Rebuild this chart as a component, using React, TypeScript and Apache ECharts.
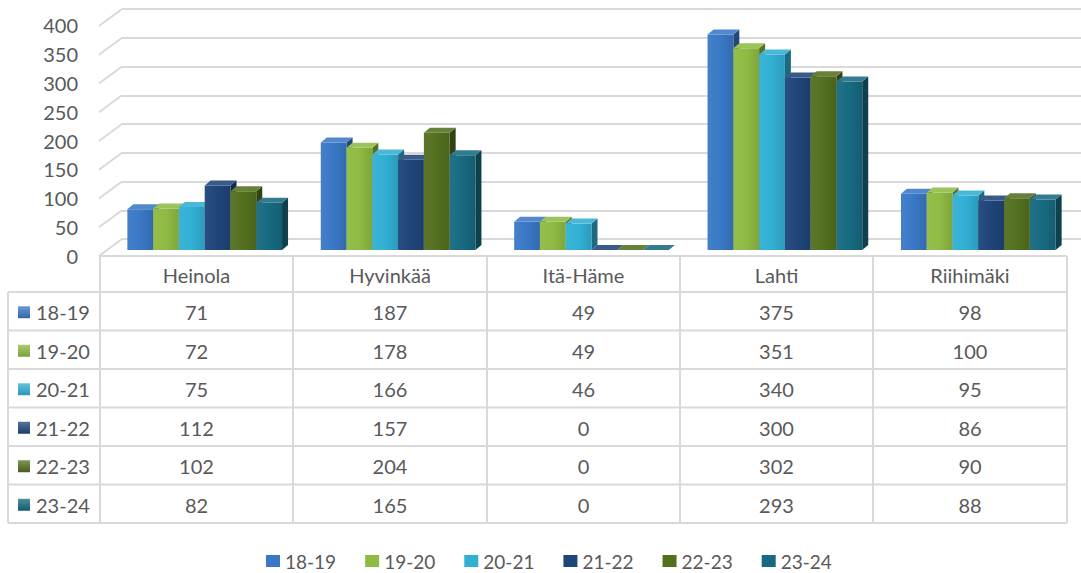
import React, { useEffect, useRef } from "react";
import * as echarts from "echarts";

const categories = ["Heinola", "Hyvinkää", "Itä-Häme", "Lahti", "Riihimäki"];
const seriesNames = ["18-19", "19-20", "20-21", "21-22", "22-23", "23-24"];
const s1819 = [71, 187, 49, 375, 98];
const s1920 = [72, 178, 49, 351, 100];
const s2021 = [75, 166, 46, 340, 95];
const s2122 = [112, 157, 0, 300, 86];
const s2223 = [102, 204, 0, 302, 90];
const s2324 = [82, 165, 0, 293, 88];
const seriesValues = [s1819, s1920, s2021, s2122, s2223, s2324];
const yTicks = [0, 50, 100, 150, 200, 250, 300, 350, 400];
const colors = ["#3A78C6", "#8FBB43", "#31B0D4", "#1F4579", "#53701F", "#176A81"];

const FONT = "Lato, 'Noto Sans', sans-serif";
const TEXT = "#595959";
const LINE = "#D9D9D9";

function shade(hex: string, f: number): string {
  const n = parseInt(hex.slice(1), 16);
  let r = (n >> 16) & 255, g = (n >> 8) & 255, b = n & 255;
  const m = (c: number) => {
    const v = f >= 0 ? c + (255 - c) * f : c * (1 + f);
    return Math.max(0, Math.min(255, Math.round(v)));
  };
  r = m(r); g = m(g); b = m(b);
  return "#" + ((1 << 24) + (r << 16) + (g << 8) + b).toString(16).slice(1);
}

export default function App() {
  const ref = useRef<HTMLDivElement>(null);
  useEffect(() => {
    if (!ref.current) return;
    const chart = echarts.init(ref.current, null, { renderer: "svg" });

    const barSeries = seriesValues.map((vals, i) => ({
      type: "custom",
      name: seriesNames[i],
      xAxisIndex: 2,
      yAxisIndex: 2,
      itemStyle: { color: colors[i] },
      data: vals.map((v, c) => [c, v]),
      encode: { x: 0, y: 1 },
      renderItem: (params: any, api: any) => {
        const cat = api.value(0);
        const val = api.value(1);
        const base = api.coord([cat, 0]);
        const top = api.coord([cat, val]);
        const band = api.size([1, 0])[0];
        const w = band * 0.1333;
        const x = base[0] - 3 * w + i * w;
        const y0 = base[1];
        const y1 = top[1];
        const dx = 6, dy = 5;
        const c = colors[i];
        return {
          type: "group",
          children: [
            {
              type: "polygon",
              shape: { points: [[x + w, y1], [x + w + dx, y1 - dy], [x + w + dx, y0 - dy], [x + w, y0]] },
              style: { fill: shade(c, -0.4) },
            },
            {
              type: "rect",
              shape: { x, y: y1, width: w, height: Math.max(0, y0 - y1) },
              style: {
                fill: new echarts.graphic.LinearGradient(0, 0, 1, 0, [
                  { offset: 0, color: shade(c, 0.05) },
                  { offset: 0.5, color: c },
                  { offset: 1, color: shade(c, -0.12) },
                ]),
              },
            },
            {
              type: "polygon",
              shape: { points: [[x, y1], [x + dx, y1 - dy], [x + w + dx, y1 - dy], [x + w, y1]] },
              style: { fill: shade(c, 0.12) },
            },
          ],
        };
      },
    }));

    const diagSeries = {
      type: "custom",
      xAxisIndex: 0,
      yAxisIndex: 0,
      silent: true,
      data: yTicks.map((v) => [0, v]),
      encode: { x: 0, y: 1 },
      renderItem: (params: any, api: any) => {
        const p = api.coord([0, api.value(1)]);
        const gx = params.coordSys.x;
        return {
          type: "line",
          shape: { x1: gx - 23, y1: p[1] + 17, x2: gx, y2: p[1] },
          style: { stroke: LINE, lineWidth: 2 },
        };
      },
    };

    // Table graphics
    const colX = [100, 293, 487, 680, 873, 1067];
    const rowY = [292, 330.5, 369, 407.5, 446, 484.5, 523];
    const headerTop = 256;
    const labelLeft = 8;
    const g: any[] = [];
    const hline = (x1: number, x2: number, y: number) =>
      g.push({ type: "line", shape: { x1, y1: y, x2, y2: y }, style: { stroke: LINE, lineWidth: 2 } });
    const vline = (x: number, y1: number, y2: number) =>
      g.push({ type: "line", shape: { x1: x, y1, x2: x, y2 }, style: { stroke: LINE, lineWidth: 2 } });
    hline(colX[0], colX[colX.length - 1], headerTop);
    rowY.forEach((y) => hline(labelLeft, colX[colX.length - 1], y));
    vline(labelLeft, rowY[0], rowY[rowY.length - 1]);
    colX.forEach((x) => vline(x, headerTop, rowY[rowY.length - 1]));
    categories.forEach((cat, c) => {
      g.push({
        type: "text",
        x: (colX[c] + colX[c + 1]) / 2,
        y: (headerTop + rowY[0]) / 2 + 1,
        style: { text: cat, font: `20px ${FONT}`, fill: TEXT, align: "center", verticalAlign: "middle" },
      });
    });
    seriesNames.forEach((name, r) => {
      const cy = (rowY[r] + rowY[r + 1]) / 2 + 1;
      g.push({
        type: "rect",
        shape: { x: 18, y: cy - 6, width: 12, height: 12 },
        style: {
          fill: new echarts.graphic.LinearGradient(0, 0, 0, 1, [
            { offset: 0, color: shade(colors[r], 0.25) },
            { offset: 1, color: shade(colors[r], -0.15) },
          ]),
        },
      });
      g.push({
        type: "text",
        x: 36,
        y: cy,
        style: { text: name, font: `20px ${FONT}`, fill: TEXT, align: "left", verticalAlign: "middle" },
      });
      seriesValues[r].forEach((v, c) => {
        g.push({
          type: "text",
          x: (colX[c] + colX[c + 1]) / 2,
          y: cy,
          style: { text: String(v), font: `20px ${FONT}`, fill: TEXT, align: "center", verticalAlign: "middle" },
        });
      });
    });

    chart.setOption({
      animation: false,
      textStyle: { fontFamily: FONT },
      grid: [
        { left: 122, right: 0, top: 9, height: 230 },
        { left: 100, right: 0, top: 25, height: 231 },
        { left: 108, width: 967, top: 20, height: 230 },
      ],
      xAxis: [0, 1, 2].map((gi) => ({
        type: "category",
        gridIndex: gi,
        data: categories,
        show: false,
      })),
      yAxis: [
        {
          gridIndex: 0, type: "value", min: 0, max: 400, interval: 50,
          axisLabel: { show: false }, axisLine: { show: false }, axisTick: { show: false },
          splitLine: { show: true, lineStyle: { color: LINE, width: 2 } },
        },
        {
          gridIndex: 1, type: "value", min: 0, max: 400, interval: 50,
          axisLine: { show: false }, axisTick: { show: false }, splitLine: { show: false },
          axisLabel: { show: true, color: TEXT, fontSize: 20, fontFamily: FONT, margin: 22 },
        },
        {
          gridIndex: 2, type: "value", min: 0, max: 400, interval: 50, show: false,
          splitLine: { show: false },
        },
      ],
      legend: {
        data: seriesNames,
        top: 551,
        left: 266,
        padding: 0,
        icon: "rect",
        itemWidth: 14,
        itemHeight: 12,
        itemGap: 29,
        textStyle: { color: TEXT, fontSize: 19, lineHeight: 20, fontFamily: FONT },
      },
      series: [diagSeries, ...barSeries],
      graphic: g,
    });
    return () => chart.dispose();
  }, []);
  return (
    <div
      ref={ref}
      style={{ position: "fixed", left: 0, top: 0, width: 1081, height: 573, background: "#fff" }}
    />
  );
}
